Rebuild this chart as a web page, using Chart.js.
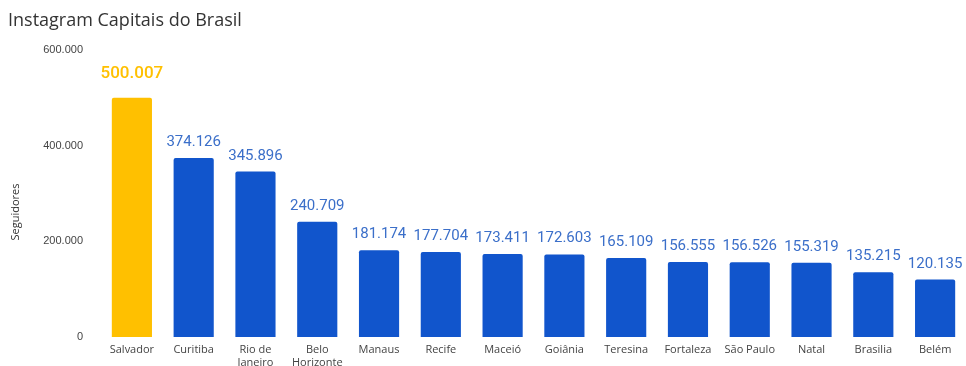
<!DOCTYPE html>
<html>
<head>
<meta charset="utf-8">
<script src="https://cdn.jsdelivr.net/npm/chart.js@4.4.0/dist/chart.umd.min.js"></script>
<style>
  html, body { margin: 0; padding: 0; background: #fff; }
  #wrap { width: 966px; height: 366px; position: relative; }
</style>
</head>
<body>
<div id="wrap"><canvas id="chart"></canvas></div>
<script>
// Categories and follower counts
const cities = ['Salvador', 'Curitiba', ['Rio de', 'Janeiro'], ['Belo', 'Horizonte'], 'Manaus', 'Recife', 'Maceió',
  'Goiânia', 'Teresina', 'Fortaleza', 'São Paulo', 'Natal', 'Brasilia', 'Belém'];
const followers = [500007, 374126, 345896, 240709, 181174, 177704, 173411, 172603, 165109, 156555, 156526, 155319, 135215, 120135];
const yTicks = [0, 200000, 400000, 600000];

const yellow = '#FFC000';
const blue = '#1155CC';

// 500007 -> "500.007"
const fmt = (v) => String(v).replace(/\B(?=(\d{3})+(?!\d))/g, '.');

// Title, axis title and value labels
const extras = {
  id: 'extras',
  afterDatasetsDraw(chart) {
    const ctx = chart.ctx;
    ctx.save();

    ctx.fillStyle = '#333';
    ctx.font = '18px "Open Sans", sans-serif';
    ctx.textAlign = 'left';
    ctx.textBaseline = 'alphabetic';
    ctx.fillText('Instagram Capitais do Brasil', 8, 26);

    ctx.save();
    ctx.translate(16, 212);
    ctx.rotate(-Math.PI / 2);
    ctx.textAlign = 'center';
    ctx.textBaseline = 'middle';
    ctx.fillStyle = '#333';
    ctx.font = '11px "Open Sans", sans-serif';
    ctx.fillText('Seguidores', 0, 0);
    ctx.restore();

    const meta = chart.getDatasetMeta(0);
    ctx.textAlign = 'center';
    ctx.textBaseline = 'alphabetic';
    meta.data.forEach((bar, i) => {
      if (i === 0) {
        ctx.fillStyle = yellow;
        ctx.font = '500 17px Roboto, sans-serif';
        ctx.fillText(fmt(followers[i]), bar.x, bar.y - 20);
      } else {
        ctx.fillStyle = '#3B6FC9';
        ctx.font = '15px Roboto, sans-serif';
        ctx.fillText(fmt(followers[i]), bar.x, bar.y - 12);
      }
    });
    ctx.restore();
  }
};

new Chart(document.getElementById('chart'), {
  type: 'bar',
  data: {
    labels: cities,
    datasets: [{
      data: followers,
      backgroundColor: followers.map((v, i) => i === 0 ? yellow : blue),
      borderRadius: 2,
      borderSkipped: 'bottom',
      categoryPercentage: 0.65,
      barPercentage: 1
    }]
  },
  options: {
    responsive: true,
    maintainAspectRatio: false,
    animation: false,
    layout: { padding: { top: 50, right: 0, left: 0, bottom: 0 } },
    plugins: {
      legend: { display: false },
      tooltip: { enabled: false }
    },
    scales: {
      x: {
        afterFit(scale) { scale.height = 29; },
        grid: { display: false, drawTicks: false },
        border: { display: false },
        ticks: {
          color: '#444',
          font: { family: '"Open Sans", sans-serif', size: 11 },
          padding: 6,
          maxRotation: 0,
          autoSkip: false
        }
      },
      y: {
        min: 0,
        max: 600000,
        afterFit(scale) { scale.width = 101; },
        afterBuildTicks(scale) { scale.ticks = yTicks.map(v => ({ value: v })); },
        grid: { display: false, drawTicks: false },
        border: { display: false },
        ticks: {
          color: '#444',
          font: { family: '"Liberation Sans", Arial, sans-serif', size: 11 },
          padding: 18,
          callback: (v) => fmt(v)
        }
      }
    }
  },
  plugins: [extras]
});
</script>
</body>
</html>
